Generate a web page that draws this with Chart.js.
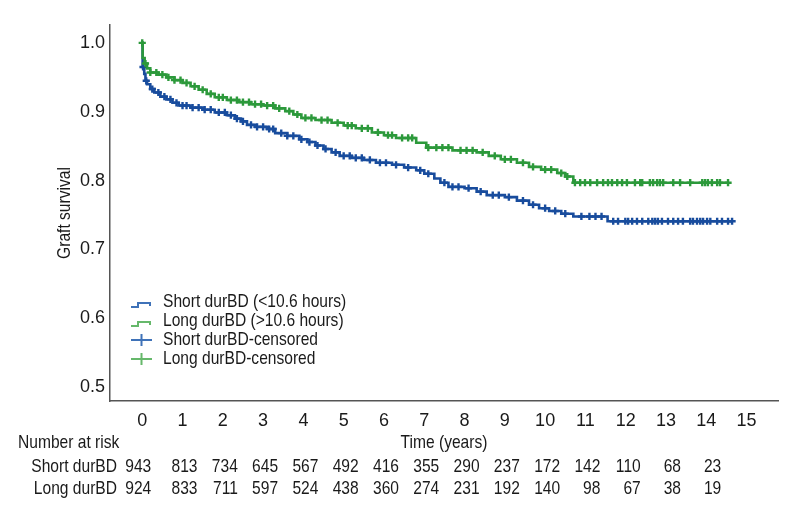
<!DOCTYPE html>
<html>
<head>
<meta charset="utf-8">
<script src="https://cdn.jsdelivr.net/npm/chart.js@4.4.1/dist/chart.umd.min.js"></script>
<style>
  html, body { margin: 0; padding: 0; background: #ffffff; }
  #wrap { width: 800px; height: 520px; position: relative; }
</style>
</head>
<body>
<div id="wrap"><canvas id="c" width="800" height="520"></canvas></div>
<script>
// ---------- data ----------
const timeTicks = [0, 1, 2, 3, 4, 5, 6, 7, 8, 9, 10, 11, 12, 13, 14, 15];
const survTicks = [0.5, 0.6, 0.7, 0.8, 0.9, 1.0];

const seriesNames = ['Short durBD (<10.6 hours)', 'Long durBD (>10.6 hours)', 'Short durBD-censored', 'Long durBD-censored'];
const riskLabels = ['Short durBD', 'Long durBD'];
const riskTimes = [0, 1, 2, 3, 4, 5, 6, 7, 8, 9, 10, 11, 12, 13, 14];
const riskShort = [943, 813, 734, 645, 567, 492, 416, 355, 290, 237, 172, 142, 110, 68, 23];
const riskLong  = [924, 833, 711, 597, 524, 438, 360, 274, 231, 192, 140, 98, 67, 38, 19];

// Kaplan-Meier step points (time in years, survival)
const shortTimes = [0, 0.01, 0.05, 0.08, 0.12, 0.2, 0.3, 0.45, 0.6, 0.75, 0.9, 1.2, 1.5, 1.8, 2.1, 2.3, 2.45, 2.6, 2.8, 3.1, 3.3, 3.6, 3.9, 4.1, 4.3, 4.5, 4.7, 4.9, 5.2, 5.5, 5.8, 6.2, 6.5, 6.8, 7.0, 7.25, 7.4, 7.6, 8.0, 8.3, 8.55, 9.0, 9.3, 9.6, 9.85, 10.1, 10.4, 10.7, 11.55, 14.64];
const shortSurv  = [1.0, 0.965, 0.955, 0.945, 0.94, 0.933, 0.928, 0.922, 0.918, 0.913, 0.909, 0.906, 0.903, 0.899, 0.895, 0.890, 0.886, 0.881, 0.878, 0.875, 0.869, 0.865, 0.860, 0.856, 0.851, 0.846, 0.841, 0.836, 0.833, 0.830, 0.826, 0.823, 0.819, 0.815, 0.810, 0.803, 0.797, 0.791, 0.789, 0.784, 0.779, 0.776, 0.771, 0.765, 0.760, 0.756, 0.752, 0.748, 0.741, 0.741];

const longTimes = [0, 0.01, 0.06, 0.12, 0.2, 0.4, 0.6, 0.8, 1.0, 1.2, 1.4, 1.6, 1.8, 2.1, 2.4, 2.7, 3.0, 3.3, 3.55, 3.75, 3.95, 4.3, 4.7, 5.0, 5.3, 5.7, 6.0, 6.3, 6.8, 7.05, 7.7, 8.3, 8.6, 8.9, 9.3, 9.6, 9.9, 10.3, 10.5, 10.7, 14.55];
const longSurv  = [1.0, 0.978, 0.970, 0.963, 0.957, 0.954, 0.950, 0.946, 0.942, 0.937, 0.932, 0.926, 0.921, 0.917, 0.914, 0.911, 0.909, 0.905, 0.901, 0.896, 0.891, 0.888, 0.884, 0.880, 0.876, 0.870, 0.866, 0.862, 0.855, 0.848, 0.844, 0.841, 0.836, 0.831, 0.826, 0.820, 0.816, 0.811, 0.806, 0.797, 0.797];

// censoring times (years)
const shortCensored = [0.02, 0.1, 0.25, 0.4, 0.55, 0.7, 0.85, 1.0, 1.1, 1.25, 1.4, 1.55, 1.7, 1.9, 2.05, 2.2, 2.35, 2.5, 2.7, 2.85, 3.0, 3.15, 3.25, 3.45, 3.6, 3.75, 3.95, 4.15, 4.35, 4.55, 4.8, 5.0, 5.15, 5.3, 5.45, 5.65, 5.9, 6.05, 6.3, 6.6, 6.9, 7.1, 7.5, 7.7, 7.85, 8.1, 8.4, 8.7, 8.85, 9.1, 9.45, 9.7, 10.0, 10.25, 10.5, 10.9, 11.1, 11.25, 11.4, 11.69, 11.81, 11.99, 12.06, 12.16, 12.28, 12.41, 12.56, 12.66, 12.73, 12.8, 12.9, 13.05, 13.18, 13.3, 13.42, 13.6, 13.67, 13.77, 13.85, 13.92, 14.02, 14.1, 14.27, 14.39, 14.54, 14.64];
const longCensored = [0.0, 0.08, 0.2, 0.35, 0.5, 0.65, 0.8, 0.95, 1.1, 1.3, 1.5, 1.7, 1.9, 2.0, 2.2, 2.35, 2.5, 2.65, 2.8, 2.95, 3.1, 3.25, 3.4, 3.65, 3.85, 4.05, 4.2, 4.45, 4.6, 4.85, 5.1, 5.2, 5.45, 5.6, 5.85, 6.1, 6.2, 6.45, 6.6, 6.7, 7.1, 7.3, 7.45, 7.6, 7.9, 8.05, 8.2, 8.45, 8.75, 9.0, 9.15, 9.45, 9.7, 10.0, 10.15, 10.4, 10.55, 10.74, 10.87, 10.99, 11.12, 11.29, 11.44, 11.56, 11.66, 11.79, 11.91, 12.03, 12.23, 12.36, 12.41, 12.6, 12.68, 12.78, 12.85, 12.93, 13.18, 13.35, 13.6, 13.9, 13.97, 14.04, 14.14, 14.27, 14.34, 14.54];

// ---------- styles ----------
const FONT = "'Liberation Sans', Arial, sans-serif";
const SQUEEZE = 0.82;   // horizontal condensing of overlay text
const BLUE = '#184c9d';
const GREEN = '#2c993b';
const BLUE_L = '#3f72b8';
const GREEN_L = '#66b86b';
const TEXT = '#1a1a1a';
const AXIS = '#555555';

function stepPoints(ts, ss) { return ts.map((t, i) => ({ x: t, y: ss[i] })); }
function survAt(ts, ss, t) {
  let v = ss[0];
  for (let i = 0; i < ts.length; i++) { if (ts[i] <= t) v = ss[i]; else break; }
  return v;
}
function censorPoints(cs, ts, ss) { return cs.map(t => ({ x: t, y: survAt(ts, ss, t) })); }

function cText(ctx, txt, x, y, align, rot) {
  ctx.save();
  ctx.translate(x, y);
  if (rot) ctx.rotate(rot);
  ctx.scale(SQUEEZE, 1);
  ctx.textAlign = align;
  ctx.fillText(txt, 0, 0);
  ctx.restore();
}

const overlay = {
  id: 'overlay',
  afterDraw(chart) {
    const ctx = chart.ctx;
    const xs = chart.scales.x;
    const area = chart.chartArea;
    ctx.save();
    ctx.fillStyle = TEXT;
    ctx.font = '19px ' + FONT;
    ctx.textBaseline = 'middle';

    // y-axis title
    cText(ctx, 'Graft survival', 65, (area.top + area.bottom) / 2, 'center', -Math.PI / 2);

    // x-axis title
    cText(ctx, 'Time (years)', (area.left + area.right) / 2, 443, 'center');

    // number at risk
    cText(ctx, 'Number at risk', 18, 443, 'left');
    cText(ctx, riskLabels[0], 117, 467, 'right');
    cText(ctx, riskLabels[1], 117, 489, 'right');
    riskTimes.forEach((t, i) => {
      const px = xs.getPixelForValue(t) + (i === 0 ? 9 : 15);
      cText(ctx, String(riskShort[i]), px, 467, 'right');
      cText(ctx, String(riskLong[i]), px, 489, 'right');
    });

    // legend
    const rows = [302, 321, 340, 359];
    rows.forEach((y, i) => {
      ctx.fillStyle = TEXT;
      cText(ctx, seriesNames[i], 163, y, 'left');
      const col = (i % 2 === 0) ? BLUE_L : GREEN_L;
      ctx.strokeStyle = col;
      ctx.lineWidth = 2;
      ctx.beginPath();
      if (i < 2) {
        ctx.moveTo(131, y + 5); ctx.lineTo(138, y + 5); ctx.lineTo(138, y + 1);
        ctx.lineTo(150, y + 1); ctx.lineTo(150, y + 4);
      } else {
        ctx.moveTo(131, y); ctx.lineTo(152, y);
        ctx.moveTo(141.5, y - 6); ctx.lineTo(141.5, y + 6);
      }
      ctx.stroke();
    });
    ctx.restore();
  }
};

new Chart(document.getElementById('c'), {
  type: 'line',
  data: {
    datasets: [
      { label: seriesNames[1], data: stepPoints(longTimes, longSurv), stepped: true, borderColor: GREEN, borderWidth: 2.6, pointRadius: 0, fill: false },
      { label: seriesNames[3], data: censorPoints(longCensored, longTimes, longSurv), showLine: false, pointStyle: 'cross', pointRadius: 3.6, pointBorderWidth: 2.4, borderColor: GREEN, backgroundColor: GREEN },
      { label: seriesNames[0], data: stepPoints(shortTimes, shortSurv), stepped: true, borderColor: BLUE, borderWidth: 2.6, pointRadius: 0, fill: false },
      { label: seriesNames[2], data: censorPoints(shortCensored, shortTimes, shortSurv), showLine: false, pointStyle: 'cross', pointRadius: 3.6, pointBorderWidth: 2.4, borderColor: BLUE, backgroundColor: BLUE }
    ]
  },
  options: {
    responsive: false,
    animation: false,
    layout: { padding: { top: 25, right: 22, left: 0, bottom: 0 } },
    plugins: { legend: { display: false }, tooltip: { enabled: false } },
    scales: {
      x: {
        type: 'linear', min: -0.8, max: 15.78,
        grid: { display: false, drawTicks: false },
        border: { display: true, color: AXIS, width: 1.5 },
        afterBuildTicks: s => { s.ticks = timeTicks.map(v => ({ value: v })); },
        afterFit: s => { s.height = 119; },
        ticks: { color: TEXT, font: { family: FONT, size: 18 }, padding: 9, maxRotation: 0, autoSkip: false, callback: v => String(v) }
      },
      y: {
        type: 'linear', min: 0.48, max: 1.026,
        grid: { display: false, drawTicks: false },
        border: { display: true, color: AXIS, width: 1.5 },
        afterBuildTicks: s => { s.ticks = survTicks.map(v => ({ value: v })); },
        afterFit: s => { s.width = 110; },
        ticks: { color: TEXT, font: { family: FONT, size: 18 }, padding: 5, autoSkip: false, callback: v => Number(v).toFixed(1) }
      }
    }
  },
  plugins: [overlay]
});
</script>
</body>
</html>
